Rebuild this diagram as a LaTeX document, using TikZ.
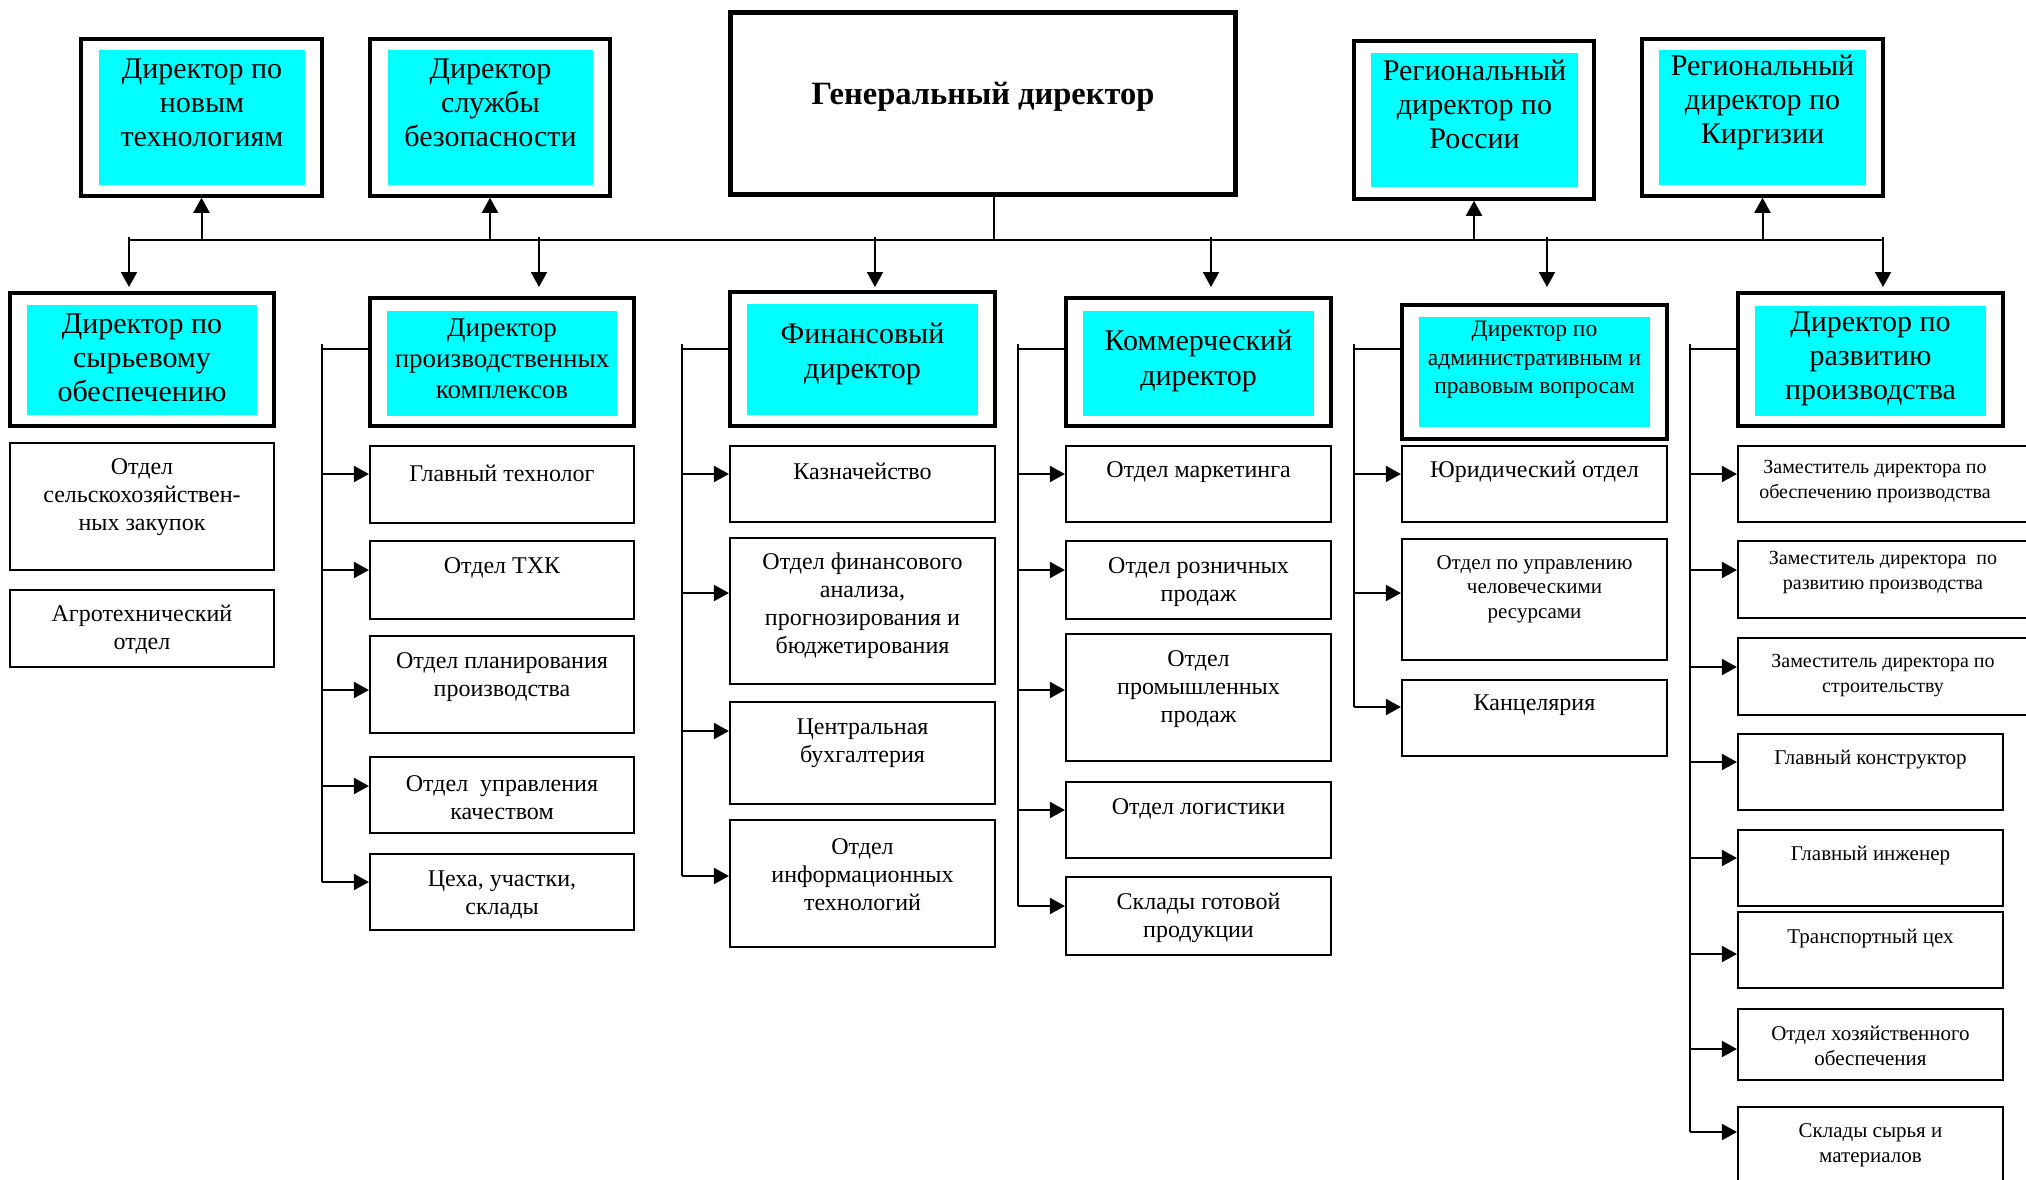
\documentclass[tikz,border=0pt]{standalone}
\usepackage{fontspec}
\setmainfont{Liberation Serif}
\usetikzlibrary{arrows.meta}
\definecolor{cy}{RGB}{0,255,255}
\begin{document}
\begin{tikzpicture}[x=1pt,y=-1pt,
  sz/.style 2 args={minimum width=#1pt, minimum height=#2pt},
  dirbox/.style={draw, line width=3.5pt, inner sep=0pt, fill=white},
  gdbox/.style={draw, line width=5pt, inner sep=0pt, fill=white},
  cyanbox/.style={fill=cy, inner sep=0pt},
  unitbox/.style={draw, line width=2.2pt, inner sep=0pt, fill=white},
  dtxt/.style={align=center, inner sep=0pt, font=\fontsize{30}{34}\selectfont},
  ptxt/.style={align=center, inner sep=0pt, font=\fontsize{27}{31}\selectfont},
  atxt/.style={align=center, inner sep=0pt, font=\fontsize{23.5}{28.5}\selectfont},
  utxt/.style={align=center, inner sep=0pt, font=\fontsize{24}{28}\selectfont},
  stxt/.style={align=center, inner sep=0pt, font=\fontsize{21}{24.5}\selectfont},
  ztxt/.style={align=center, inner sep=0pt, font=\fontsize{20}{24.5}\selectfont},
  conn/.style={line width=2pt},
  arr/.style={line width=2pt, -{Triangle[length=15pt,width=16pt]}}
]
\clip (0,0) rectangle (2026,1179);
\fill[white] (0,0) rectangle (2026,1179);

% ---------- top row ----------
\node[gdbox, sz={505}{182}] (gd) at (982.5,103) {};
\node[inner sep=0pt, font=\bfseries\fontsize{32.5}{38}\selectfont] (gdt) at (983,97) {Генеральный директор};

\node[dirbox, sz={241}{157}] (nt) at (201.5,117.5) {};
\node[cyanbox, sz={206}{135}] (ntc) at (202,117.5) {};
\node[dtxt] (ntt) at (202,102.5) {Директор по\\новым\\технологиям};

\node[dirbox, sz={240}{157}] (sb) at (490,117.5) {};
\node[cyanbox, sz={205}{135}] (sbc) at (490.5,117.5) {};
\node[dtxt] (sbt) at (490.5,102.5) {Директор\\службы\\безопасности};

\node[dirbox, sz={240}{158}] (rr) at (1474,120) {};
\node[cyanbox, sz={207}{134}] (rrc) at (1474.5,120) {};
\node[dtxt] (rrt) at (1474.5,104.5) {Региональный\\директор по\\России};

\node[dirbox, sz={241}{157}] (rk) at (1762.5,117.5) {};
\node[cyanbox, sz={207}{135}] (rkc) at (1762.5,117.5) {};
\node[dtxt] (rkt) at (1762.5,102.5) {Региональный\\директор по\\Киргизии};

% ---------- bus ----------
\coordinate (bl) at (129,240);
\coordinate (br) at (1883,240);
\coordinate (gdb) at (994,240);
\draw[conn] (bl) -- (br);
\draw[conn] (gdb |- gd.south) -- (gdb);
\draw[arr] (nt.south |- bl) -- (nt.south);
\draw[arr] (sb.south |- bl) -- (sb.south);
\draw[arr] (rr.south |- bl) -- (rr.south);
\draw[arr] (rk.south |- bl) -- (rk.south);
\coordinate (d1) at (129,287);
\coordinate (d2) at (539,287);
\coordinate (d3) at (875,287);
\coordinate (d4) at (1211,287);
\coordinate (d5) at (1547,287);
\coordinate (d6) at (1883,287);
\foreach \d in {d1,d2,d3,d4,d5,d6}{\draw[arr] ([yshift=3pt]\d |- bl) -- (\d);}

% ---------- second row ----------
\node[dirbox, sz={264}{133}] (raw) at (142,359.5) {};
\node[cyanbox, sz={230}{110}] (rawc) at (142,360) {};
\node[dtxt] (rawt) at (142,357.5) {Директор по\\сырьевому\\обеспечению};

\node[dirbox, sz={264}{128}] (prod) at (502,362) {};
\node[cyanbox, sz={230}{105}] (prodc) at (502,363.5) {};
\node[ptxt] (prodt) at (502,358.5) {Директор\\производственных\\комплексов};

\node[dirbox, sz={265}{134}] (fin) at (862.5,359) {};
\node[cyanbox, sz={231}{111}] (finc) at (862.5,359.5) {};
\node[dtxt, font=\fontsize{30}{35}\selectfont] (fint) at (862.5,353.5) {Финансовый\\директор};

\node[dirbox, sz={265}{128}] (com) at (1198.5,362) {};
\node[cyanbox, sz={231}{105}] (comc) at (1198.5,363.5) {};
\node[dtxt, font=\fontsize{30}{35}\selectfont] (comt) at (1198.5,360.5) {Коммерческий\\директор};

\node[dirbox, sz={265}{134}] (adm) at (1534.5,372) {};
\node[cyanbox, sz={231}{110}] (admc) at (1534.5,372) {};
\node[atxt] (admt) at (1534.5,360) {Директор по\\административным и\\правовым вопросам};

\node[dirbox, sz={265}{133}] (dev) at (1870.5,359.5) {};
\node[cyanbox, sz={231}{110}] (devc) at (1870.5,361) {};
\node[dtxt] (devt) at (1870.5,359) {Директор по\\развитию\\производства};

% ---------- raw materials column ----------
\node[unitbox, sz={264}{127}] (sh) at (142,506.5) {};
\node[utxt] (sht) at (142,497) {Отдел\\сельскохозяйствен-\\ных закупок};
\node[unitbox, sz={264}{77}] (agro) at (142,628.5) {};
\node[utxt] (agrot) at (142,630) {Агротехнический\\отдел};

% ---------- production column ----------
\node[unitbox, sz={264}{77}] (gt) at (502,484.5) {};
\node[utxt] (gtt) at (502,473) {Главный технолог};
\node[unitbox, sz={264}{78}] (txk) at (502,580) {};
\node[utxt] (txkt) at (502,568) {Отдел ТХК};
\node[unitbox, sz={264}{97}] (plan) at (502,684.5) {};
\node[utxt] (plant) at (502,677.5) {Отдел планирования\\производства};
\node[unitbox, sz={264}{76}] (kach) at (502,795) {};
\node[utxt] (kacht) at (502,798) {Отдел\enspace управления\\качеством};
\node[unitbox, sz={264}{76}] (ceh) at (502,892) {};
\node[utxt] (ceht) at (502,895) {Цеха, участки,\\склады};

\coordinate (pv) at (322,344);
\coordinate (pj) at (322,349);
\coordinate (p1) at (322,474);
\coordinate (p2) at (322,570);
\coordinate (p3) at (322,690);
\coordinate (p4) at (322,786);
\coordinate (p5) at (322,882);
\draw[conn] (pv) -- (p5);
\draw[conn] (pj) -- (pj -| prod.west);
\draw[arr] (p1) -- (p1 -| gt.west);
\draw[arr] (p2) -- (p2 -| txk.west);
\draw[arr] (p3) -- (p3 -| plan.west);
\draw[arr] (p4) -- (p4 -| kach.west);
\draw[arr] (p5) -- (p5 -| ceh.west);

% ---------- finance column ----------
\node[unitbox, sz={265}{76}] (kazn) at (862.5,484) {};
\node[utxt] (kaznt) at (862.5,471) {Казначейство};
\node[unitbox, sz={265}{146}] (fa) at (862.5,611) {};
\node[utxt] (fat) at (862.5,606) {Отдел финансового\\анализа,\\прогнозирования и\\бюджетирования};
\node[unitbox, sz={265}{102}] (buh) at (862.5,753) {};
\node[utxt] (buht) at (862.5,743) {Центральная\\бухгалтерия};
\node[unitbox, sz={265}{127}] (it) at (862.5,883.5) {};
\node[utxt] (itt) at (862.5,874.5) {Отдел\\информационных\\технологий};

\coordinate (fv) at (682,344);
\coordinate (fj) at (682,349);
\coordinate (f1) at (682,474);
\coordinate (f2) at (682,593);
\coordinate (f3) at (682,731);
\coordinate (f4) at (682,876);
\draw[conn] (fv) -- (f4);
\draw[conn] (fj) -- (fj -| fin.west);
\draw[arr] (f1) -- (f1 -| kazn.west);
\draw[arr] (f2) -- (f2 -| fa.west);
\draw[arr] (f3) -- (f3 -| buh.west);
\draw[arr] (f4) -- (f4 -| it.west);

% ---------- commercial column ----------
\node[unitbox, sz={265}{76}] (mark) at (1198.5,484) {};
\node[utxt] (markt) at (1198.5,472) {Отдел маркетинга};
\node[unitbox, sz={265}{78}] (rozn) at (1198.5,580) {};
\node[utxt] (roznt) at (1198.5,582) {Отдел розничных\\продаж};
\node[unitbox, sz={265}{127}] (prom) at (1198.5,697.5) {};
\node[utxt] (promt) at (1198.5,689.5) {Отдел\\промышленных\\продаж};
\node[unitbox, sz={265}{76}] (logi) at (1198.5,820) {};
\node[utxt] (logit) at (1198.5,809) {Отдел логистики};
\node[unitbox, sz={265}{78}] (skg) at (1198.5,916) {};
\node[utxt] (skgt) at (1198.5,918) {Склады готовой\\продукции};

\coordinate (cv) at (1018,344);
\coordinate (cj) at (1018,349);
\coordinate (c1) at (1018,474);
\coordinate (c2) at (1018,570);
\coordinate (c3) at (1018,690);
\coordinate (c4) at (1018,810);
\coordinate (c5) at (1018,906);
\draw[conn] (cv) -- (c5);
\draw[conn] (cj) -- (cj -| com.west);
\draw[arr] (c1) -- (c1 -| mark.west);
\draw[arr] (c2) -- (c2 -| rozn.west);
\draw[arr] (c3) -- (c3 -| prom.west);
\draw[arr] (c4) -- (c4 -| logi.west);
\draw[arr] (c5) -- (c5 -| skg.west);

% ---------- admin column ----------
\node[unitbox, sz={265}{76}] (yur) at (1534.5,484) {};
\node[utxt] (yurt) at (1534.5,472) {Юридический отдел};
\node[unitbox, sz={265}{121}] (hr) at (1534.5,599.5) {};
\node[stxt] (hrt) at (1534.5,589) {Отдел по управлению\\человеческими\\ресурсами};
\node[unitbox, sz={265}{76}] (kanc) at (1534.5,718) {};
\node[utxt] (kanct) at (1534.5,705.5) {Канцелярия};

\coordinate (av) at (1354,344);
\coordinate (aj) at (1354,349);
\coordinate (a1) at (1354,474);
\coordinate (a2) at (1354,593);
\coordinate (a3) at (1354,707);
\draw[conn] (av) -- (a3);
\draw[conn] (aj) -- (aj -| adm.west);
\draw[arr] (a1) -- (a1 -| yur.west);
\draw[arr] (a2) -- (a2 -| hr.west);
\draw[arr] (a3) -- (a3 -| kanc.west);

% ---------- development column ----------
\node[unitbox, sz={302}{76}] (z1) at (1889,484) {};
\node[ztxt] (z1t) at (1875,481.5) {Заместитель директора по\\обеспечению производства};
\node[unitbox, sz={302}{77}] (z2) at (1889,579.5) {};
\node[ztxt] (z2t) at (1883,572.5) {Заместитель директора\enspace по\\развитию производства};
\node[unitbox, sz={302}{77}] (z3) at (1889,676.5) {};
\node[ztxt] (z3t) at (1883,675.5) {Заместитель директора по\\строительству};
\node[unitbox, sz={265}{76}] (gk) at (1870.5,772) {};
\node[stxt] (gkt) at (1870.5,760) {Главный конструктор};
\node[unitbox, sz={265}{76}] (gi) at (1870.5,868) {};
\node[stxt] (git) at (1870.5,855.5) {Главный инженер};
\node[unitbox, sz={265}{76}] (tc) at (1870.5,950) {};
\node[stxt] (tct) at (1870.5,938.5) {Транспортный цех};
\node[unitbox, sz={265}{71}] (hoz) at (1870.5,1044.5) {};
\node[stxt] (hozt) at (1870.5,1046) {Отдел хозяйственного\\обеспечения};
\node[unitbox, sz={265}{93}] (sks) at (1870.5,1153.5) {};
\node[stxt] (skst) at (1870.5,1145.5) {Склады сырья и\\материалов};

\coordinate (vv) at (1690,344);
\coordinate (vj) at (1690,349);
\coordinate (v1) at (1690,474);
\coordinate (v2) at (1690,570);
\coordinate (v3) at (1690,667);
\coordinate (v4) at (1690,762);
\coordinate (v5) at (1690,858);
\coordinate (v6) at (1690,954);
\coordinate (v7) at (1690,1049);
\coordinate (v8) at (1690,1132);
\draw[conn] (vv) -- (v8);
\draw[conn] (vj) -- (vj -| dev.west);
\draw[arr] (v1) -- (v1 -| z1.west);
\draw[arr] (v2) -- (v2 -| z2.west);
\draw[arr] (v3) -- (v3 -| z3.west);
\draw[arr] (v4) -- (v4 -| gk.west);
\draw[arr] (v5) -- (v5 -| gi.west);
\draw[arr] (v6) -- (v6 -| tc.west);
\draw[arr] (v7) -- (v7 -| hoz.west);
\draw[arr] (v8) -- (v8 -| sks.west);
\end{tikzpicture}
\end{document}
